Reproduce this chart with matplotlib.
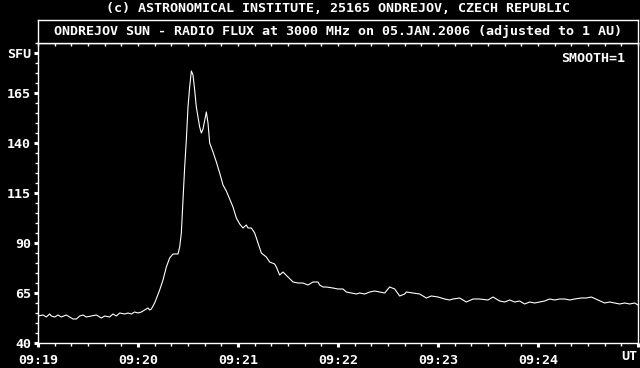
import matplotlib
matplotlib.use("Agg")
import matplotlib.pyplot as plt
from matplotlib.ticker import MultipleLocator, FixedLocator

# seconds after 09:19:00 UT
t_sec = [0, 3, 5, 7, 8, 10, 12, 14, 17, 19, 21, 23, 25, 27, 29, 32, 35, 38, 40, 43,
         45, 47, 49, 52, 54, 56, 58, 60, 62, 64, 66, 67, 68, 70, 73, 75, 77, 79, 81, 84,
         85, 86, 87, 88, 89, 90, 91, 92, 93, 94, 95, 97, 98, 99, 101, 102, 103, 105, 107, 109,
         111, 113, 115, 117, 119, 121, 123, 125, 126, 128, 130, 132, 134, 137, 139, 142, 143, 145, 147, 150,
         153, 156, 159, 162, 165, 168, 169, 171, 173, 177, 180, 183, 185, 188, 191, 193, 196, 199, 202, 205,
         208, 211, 214, 217, 220, 221, 225, 229, 233, 236, 240, 244, 247, 249, 253, 257, 261, 265, 270, 273,
         277, 280, 283, 286, 289, 292, 295, 298, 301, 304, 307, 310, 313, 316, 319, 322, 326, 329, 332, 336,
         340, 343, 346, 349, 352, 355, 358, 360]
flux_sfu = [53.5, 54, 53, 54.5, 53.5, 53, 54, 53, 54, 53, 52, 52, 53.5, 54, 53, 53.5, 54, 52.5, 53.5, 53,
            54.5, 53.5, 55, 54.5, 55, 54.5, 55.5, 55, 55.5, 56.5, 57.5, 56.5, 57, 60, 66.5, 71.5, 78, 82.5, 84.5, 84.5,
            88, 95, 111.5, 128, 141.5, 158, 168, 176, 174, 166.5, 158, 148, 145, 147, 155.5, 150, 140, 135.5, 130.5, 125,
            119, 116, 112, 108, 102.5, 99.5, 97.5, 99, 97.5, 97.5, 95, 90, 85, 83, 80.5, 79.5, 78, 74, 75.5, 73,
            70.5, 70, 70, 69, 70.5, 70.5, 69, 68, 68, 67.5, 67, 67, 65.5, 65, 64.5, 65, 64.5, 65.5, 66, 65.5,
            65, 68, 67, 63.5, 64.5, 65.5, 65, 64.5, 62.5, 63.5, 63, 62, 61.5, 62, 62.5, 60.5, 62, 62, 61.5, 63,
            61, 60.5, 61.5, 60.5, 61, 59.5, 60.5, 60, 60.5, 61, 62, 61.5, 62, 62, 61.5, 62, 62.5, 62.5, 63, 61.5,
            60, 60.5, 60, 59.5, 60, 59.5, 60, 59]

x_major = [0, 60, 120, 180, 240, 300, 360]
x_labels = ["09:19", "09:20", "09:21", "09:22", "09:23", "09:24", ""]
y_major = [40, 65, 90, 115, 140, 165, 185]
y_labels = ["40", "65", "90", "115", "140", "165", "SFU"]

W, H = 640, 368
FONT = "DejaVu Sans Mono"
FS = 9.6
plt.rcParams["font.family"] = FONT

fig = plt.figure(figsize=(W / 100, H / 100), dpi=100, facecolor="black")

L, R, B, T = 38, 638, 343, 43
ax = fig.add_axes([L / W, (H - B) / H, (R - L) / W, (B - T) / H])
ax.set_facecolor("black")
ax.plot(t_sec, flux_sfu, color="white", lw=0.8)
ax.set_xlim(0, 360)
ax.set_ylim(40, 190)

for s in ax.spines.values():
    s.set_color("white")
    s.set_linewidth(1.0)

ax.xaxis.set_major_locator(FixedLocator(x_major))
ax.set_xticklabels(x_labels)
ax.xaxis.set_minor_locator(MultipleLocator(10))
ax.yaxis.set_major_locator(FixedLocator(y_major))
ax.set_yticklabels(y_labels)
ax.yaxis.set_minor_locator(MultipleLocator(5))

ax.tick_params(axis="both", which="major", colors="white", labelcolor="white",
               direction="out", length=3, width=2.2, labelsize=FS)
ax.tick_params(axis="both", which="minor", colors="white", direction="out",
               length=2.5, width=1.0)
ax.tick_params(axis="x", which="major", pad=5)
ax.tick_params(axis="y", which="major", pad=2)
for lab in ax.get_xticklabels() + ax.get_yticklabels():
    lab.set_fontweight("bold")

# top inward minor ticks
sec = ax.secondary_xaxis("top")
sec.xaxis.set_major_locator(FixedLocator([]))
sec.xaxis.set_minor_locator(MultipleLocator(10))
sec.tick_params(which="minor", direction="in", length=2, width=1.0, colors="white")
sec.spines["top"].set_color("white")
sec.set_xticklabels([])

ax.text(352 / 360, 1 - 15 / 300, "SMOOTH=1", transform=ax.transAxes, color="white",
        ha="right", va="center", fontsize=FS, fontweight="bold")
fig.text(637 / W, 1 - 357 / H, "UT", color="white", ha="right", va="center",
         fontsize=FS, fontweight="bold")

# title box
tb_top = 20
tax = fig.add_axes([L / W, (H - T) / H, (R - L) / W, (T - tb_top) / H])
tax.set_facecolor("black")
tax.set_xticks([])
tax.set_yticks([])
for s in tax.spines.values():
    s.set_color("white")
    s.set_linewidth(1.0)
tax.text(0.5, 0.5, "ONDREJOV SUN - RADIO FLUX at 3000 MHz on 05.JAN.2006 (adjusted to 1 AU)",
         transform=tax.transAxes, color="white", ha="center", va="center",
         fontsize=FS, fontweight="bold")

fig.text(338 / W, 1 - 9 / H, "(c) ASTRONOMICAL INSTITUTE, 25165 ONDREJOV, CZECH REPUBLIC",
         color="white", ha="center", va="center", fontsize=FS, fontweight="bold")

fig.savefig("out.png", dpi=100, facecolor="black")
